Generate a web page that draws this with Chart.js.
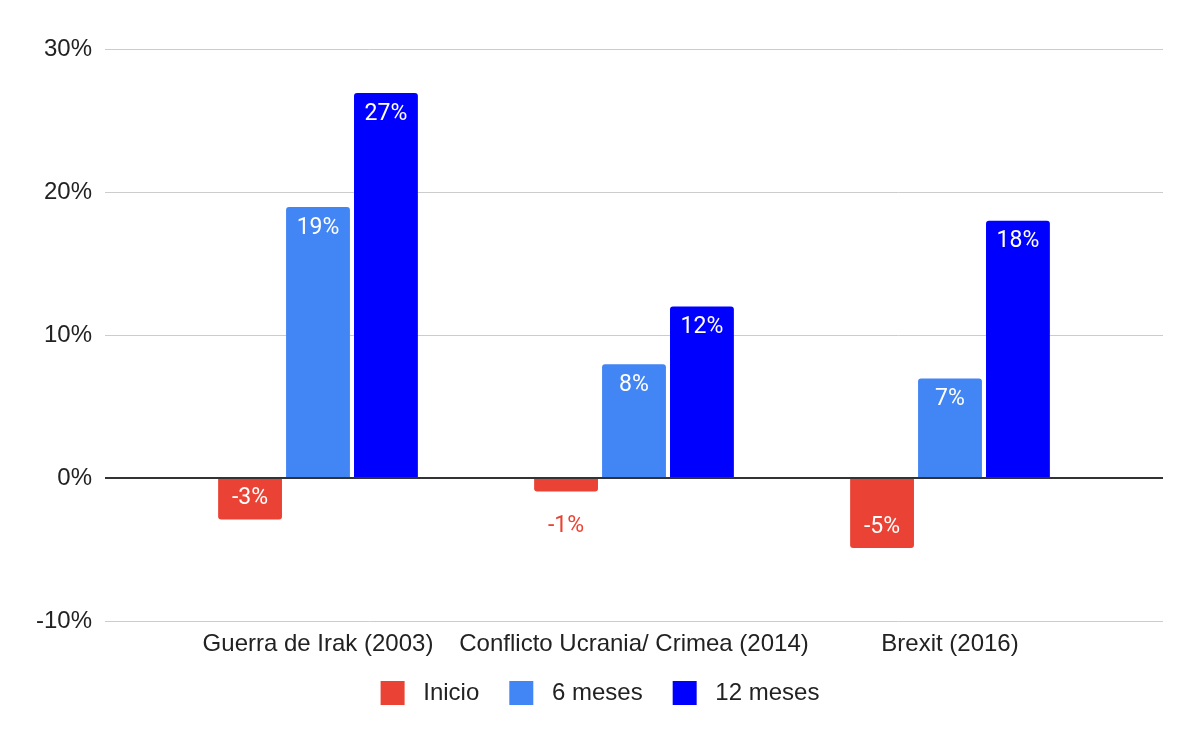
<!DOCTYPE html>
<html>
<head>
<meta charset="utf-8">
<script src="https://cdn.jsdelivr.net/npm/chart.js@4"></script>
<style>
  html, body { margin: 0; padding: 0; background: #fff; }
  #wrap { width: 1200px; height: 741px; }
</style>
</head>
<body>
<div id="wrap"><canvas id="chart" width="1200" height="741"></canvas></div>
<script>
// categories and series (percent)
const categories = ["Guerra de Irak (2003)", "Conflicto Ucrania/ Crimea (2014)", "Brexit (2016)"];
const inicio = [-2.9, -0.95, -4.9];
const seisMeses = [18.95, 7.95, 6.95];
const doceMeses = [26.93, 11.99, 17.99];
const yMin = -10;
const yMax = 30;
const yStep = 10;

const axisFont = "'Liberation Sans', Arial, sans-serif";
const labelFont = "Roboto, 'Noto Sans', sans-serif";

// horizontal grid drawn a bit wider than the bar area, like the original
const wideGrid = {
  id: "wideGrid",
  beforeDatasetsDraw(chart) {
    const { ctx, chartArea } = chart;
    const y = chart.scales.y;
    ctx.save();
    ctx.strokeStyle = "#cccccc";
    ctx.lineWidth = 1;
    y.ticks.forEach(t => {
      if (t.value === 0) return;
      const py = Math.round(y.getPixelForValue(t.value)) + 0.5;
      ctx.beginPath();
      ctx.moveTo(chartArea.left - 55, py);
      ctx.lineTo(chartArea.right + 55, py);
      ctx.stroke();
    });
    ctx.restore();
  },
  afterDatasetsDraw(chart) {
    const { ctx, chartArea } = chart;
    const py = chart.scales.y.getPixelForValue(0);
    ctx.save();
    ctx.strokeStyle = "#333333";
    ctx.lineWidth = 2;
    ctx.beginPath();
    ctx.moveTo(chartArea.left - 55, py);
    ctx.lineTo(chartArea.right + 55, py);
    ctx.stroke();
    ctx.restore();
  }
};

// value labels on bars
const barLabels = {
  id: "barLabels",
  afterDatasetsDraw(chart) {
    const { ctx } = chart;
    ctx.save();
    ctx.font = "23px " + labelFont;
    ctx.textAlign = "center";
    ctx.textBaseline = "middle";
    chart.data.datasets.forEach((ds, i) => {
      const meta = chart.getDatasetMeta(i);
      meta.data.forEach((bar, j) => {
        const v = ds.data[j];
        const txt = Math.round(v) + "%";
        const h = Math.abs(bar.base - bar.y);
        let ty;
        if (h >= 36) {
          ctx.fillStyle = "#ffffff";
          ty = v >= 0 ? bar.y + 21 : bar.y - 21;
        } else {
          ctx.fillStyle = ds.backgroundColor;
          ty = v >= 0 ? bar.y - 20 : bar.y + 35;
        }
        ctx.fillText(txt, bar.x, ty);
      });
    });
    ctx.restore();
  }
};

new Chart(document.getElementById("chart").getContext("2d"), {
  type: "bar",
  data: {
    labels: categories,
    datasets: [
      { label: "Inicio", data: inicio, backgroundColor: "#ea4335" },
      { label: "6 meses", data: seisMeses, backgroundColor: "#4285f4" },
      { label: "12 meses", data: doceMeses, backgroundColor: "#0000ff" }
    ]
  },
  options: {
    responsive: false,
    animation: false,
    devicePixelRatio: 1,
    layout: { padding: { left: 20, right: 20, top: 49, bottom: 26 } },
    datasets: {
      bar: {
        barPercentage: 0.94,
        categoryPercentage: 0.645,
        borderRadius: 3
      }
    },
    scales: {
      x: {
        grid: { display: false, drawTicks: false },
        border: { display: false },
        afterFit: scale => { scale.height = 50; },
        ticks: {
          padding: 9,
          autoSkip: false,
          color: "#222222",
          font: { family: axisFont, size: 24 },
          maxRotation: 0
        }
      },
      y: {
        min: yMin,
        max: yMax,
        grid: {
          display: true,
          drawOnChartArea: false,
          drawTicks: true,
          tickLength: 60,
          color: "rgba(0,0,0,0)"
        },
        border: { display: false },
        afterFit: scale => { scale.width = 140; },
        ticks: {
          stepSize: yStep,
          padding: 8,
          color: "#222222",
          font: { family: axisFont, size: 24 },
          callback: v => v + "%"
        }
      },
      // empty right axis, only keeps the bars off the right edge
      yRight: {
        position: "right",
        display: true,
        grid: { display: false, drawTicks: false },
        border: { display: false },
        ticks: { display: false },
        afterFit: scale => { scale.width = 72; }
      }
    },
    plugins: {
      tooltip: { enabled: false },
      legend: {
        position: "bottom",
        labels: {
          boxWidth: 24,
          boxHeight: 24,
          padding: 10,
          color: "#222222",
          font: { family: axisFont, size: 24 },
          generateLabels: chart => {
            const items = Chart.defaults.plugins.legend.labels.generateLabels(chart);
            items.forEach((it, k) => {
              it.text = " " + it.text + (k < items.length - 1 ? "   " : "");
              it.lineWidth = 0;
            });
            return items;
          }
        }
      }
    }
  },
  plugins: [wideGrid, barLabels]
});
</script>
</body>
</html>
